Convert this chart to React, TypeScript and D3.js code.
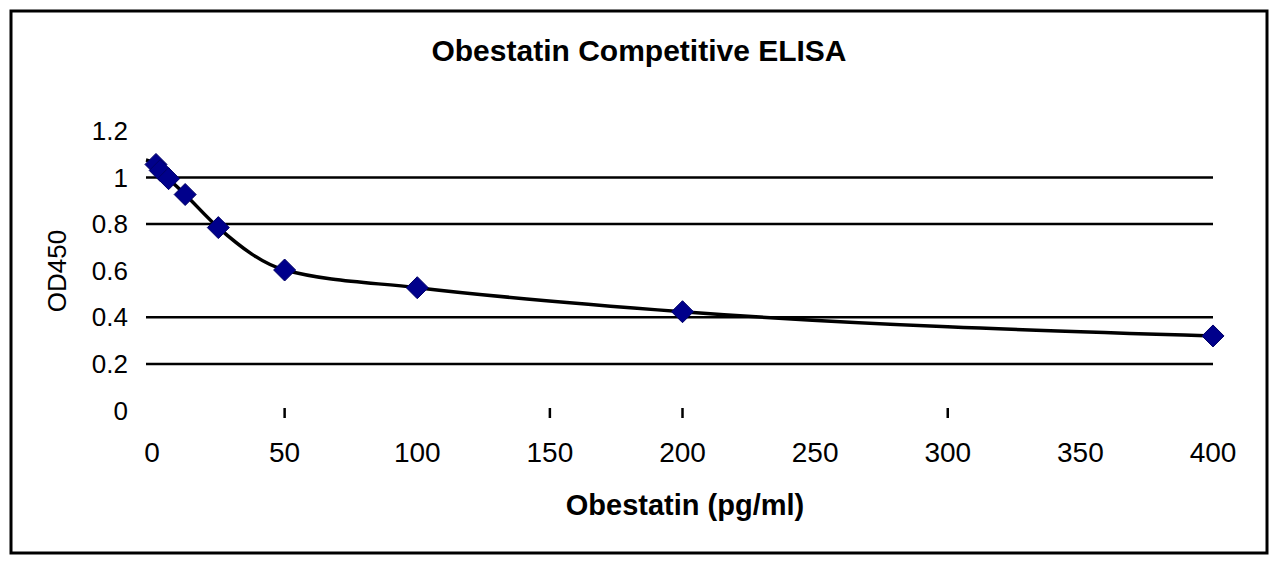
import React from "react";
import * as d3 from "d3";

const concentrations = [1.5, 3.1, 6.25, 12.5, 25, 50, 100, 200, 400];
const od450 = [1.056, 1.03, 0.995, 0.927, 0.785, 0.603, 0.527, 0.424, 0.32];
const xTicks = [0, 50, 100, 150, 200, 250, 300, 350, 400];
const xTickMarks = [50, 150, 200, 300];
const yTicks = [0, 0.2, 0.4, 0.6, 0.8, 1, 1.2];
const yGrid = [0.2, 0.4, 0.8, 1.0];
const title = "Obestatin Competitive ELISA";
const xTitle = "Obestatin (pg/ml)";
const yTitle = "OD450";

export default function App() {
  const W = 1280;
  const H = 566;
  const x = d3.scaleLinear().domain([0, 400]).range([152, 1213]);
  const y = d3.scaleLinear().domain([0, 1]).range([410.5, 177.5]);
  const pts = concentrations.map((c, i) => [x(c), y(od450[i])] as [number, number]);
  const line = d3.line().curve(d3.curveMonotoneX);
  const lineD = line([[146, y(1.075)], ...pts]) || "";
  const font = "'Liberation Sans', Arial, sans-serif";
  const diamond = (cx: number, cy: number) =>
    `M${cx},${cy - 11} L${cx + 11},${cy} L${cx},${cy + 11} L${cx - 11},${cy} Z`;
  return (
    <svg width={W} height={H} style={{ position: "absolute", left: 0, top: 0, background: "#fff" }}>
      <rect x={11} y={11} width={1256} height={542} fill="#fff" stroke="#000" strokeWidth={3} />
      <text x={639} y={61} textAnchor="middle" fontFamily={font} fontSize={30} fontWeight="bold" fill="#000">
        {title}
      </text>
      {yGrid.map((v) => (
        <line key={v} x1={146} x2={1213} y1={y(v)} y2={y(v)} stroke="#000" strokeWidth={2.5} />
      ))}
      {yTicks.map((v) => (
        <text key={v} x={128} y={y(v)} dy="0.35em" textAnchor="end" fontFamily={font} fontSize={26} fill="#000">
          {d3.format("~g")(v)}
        </text>
      ))}
      {xTickMarks.map((v) => (
        <line key={v} x1={x(v)} x2={x(v)} y1={408} y2={418} stroke="#000" strokeWidth={2.5} />
      ))}
      {xTicks.map((v) => (
        <text key={v} x={x(v)} y={452} dy="0.35em" textAnchor="middle" fontFamily={font} fontSize={28} fill="#000">
          {v}
        </text>
      ))}
      <text x={685} y={505} dy="0.35em" textAnchor="middle" fontFamily={font} fontSize={29} fontWeight="bold" fill="#000">
        {xTitle}
      </text>
      <text
        transform={`translate(57,271) rotate(-90)`}
        dy="0.35em"
        textAnchor="middle"
        fontFamily={font}
        fontSize={26}
        fill="#000"
      >
        {yTitle}
      </text>
      <path d={lineD} fill="none" stroke="#000" strokeWidth={3.5} />
      {pts.map(([cx, cy], i) => (
        <path key={i} d={diamond(cx, cy)} fill="#00008b" stroke="#000066" strokeWidth={1} />
      ))}
    </svg>
  );
}
